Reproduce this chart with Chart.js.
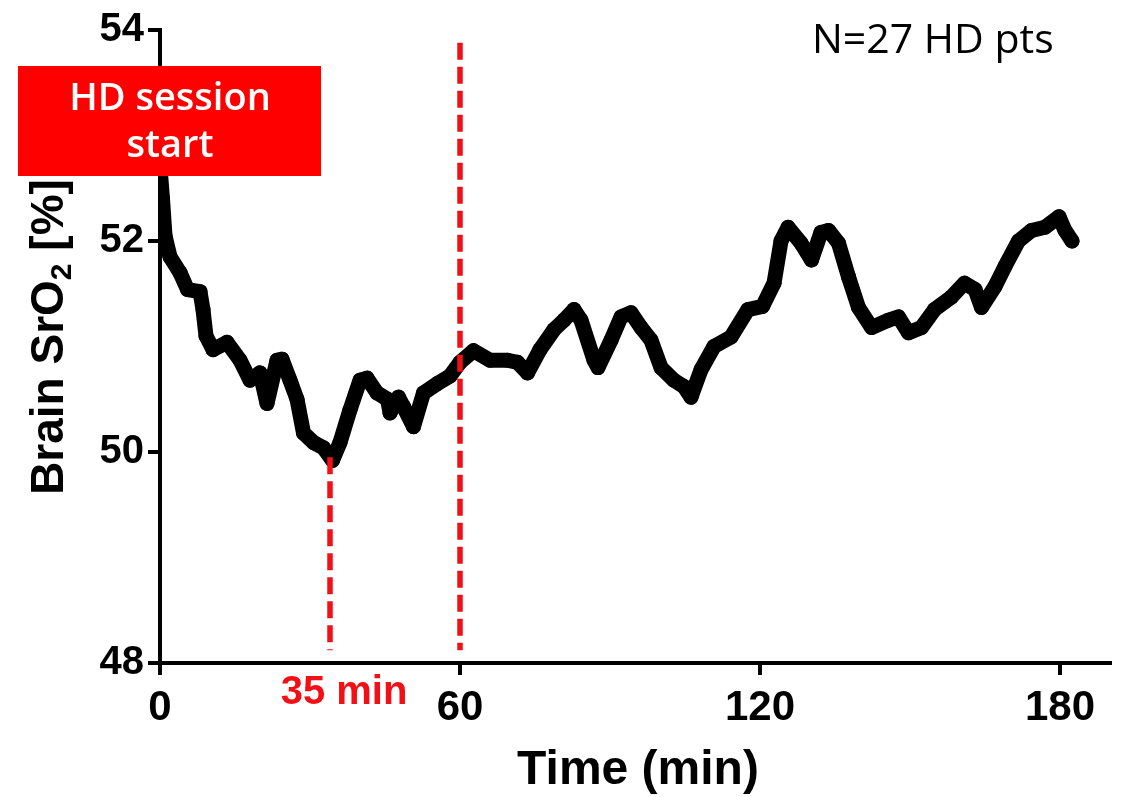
<!DOCTYPE html>
<html>
<head>
<meta charset="utf-8">
<title>Brain SrO2 during HD session</title>
<script src="https://cdn.jsdelivr.net/npm/chart.js@4.4.1/dist/chart.umd.min.js"></script>
<style>
  html, body { margin: 0; padding: 0; background: #fff; }
  #chart-wrap { width: 1137px; height: 797px; }
</style>
</head>
<body>
<div id="chart-wrap"><canvas id="srO2-chart" width="1137" height="797"></canvas></div>
<script>
// minutes since HD start, mean brain SrO2 (%)
const timeMin = [
    0, 0.5, 1, 2, 4, 5.5, 8, 8.6, 9.2, 10.6, 13.4, 16, 18, 20, 21.4, 23.4, 24.4, 26, 27.4, 28.7,
    30.7, 32.7, 34.5, 36, 38, 40, 41.4, 43.4, 45.5, 46, 47.7, 48.7, 50.7, 52.7, 55.5, 58, 60, 62.7,
    66, 69.5, 71.5, 73.5, 76, 78.8, 80.8, 82.8, 84.2, 86.8, 87.6, 90.2, 92.2, 94.2, 96.2, 98.2,
    100.2, 102.8, 104.8, 106.2, 108.2, 110.8, 114.2, 117.6, 120.5, 122.8, 124.2, 125.6, 128.2,
    130.3, 132.2, 133.7, 135.7, 137.7, 139.7, 142.3, 145.7, 147.7, 149.7, 152.3, 154.9, 158.3,
    160.9, 163, 164.3, 167, 169, 171.7, 174.3, 177, 179.8, 181, 182.4
];
const brainSrO2 = [
    52.7, 52.4, 52.05, 51.85, 51.7, 51.54, 51.52, 51.35, 51.1, 50.97, 51.04, 50.87, 50.68, 50.75, 50.46, 50.87, 50.88, 50.68, 50.5, 50.18,
    50.09, 50.04, 49.92, 50.09, 50.4, 50.68, 50.7, 50.56, 50.5, 50.37, 50.52, 50.43, 50.24, 50.56, 50.65, 50.72, 50.85, 50.96,
    50.87, 50.87, 50.85, 50.75, 50.97, 51.16, 51.25, 51.35, 51.25, 50.87, 50.8, 51.06, 51.28, 51.32, 51.18, 51.06,
    50.8, 50.68, 50.62, 50.52, 50.78, 51.0, 51.09, 51.35, 51.38, 51.6, 52.0, 52.13, 51.98,
    51.82, 52.08, 52.1, 51.98, 51.66, 51.37, 51.18, 51.25, 51.28, 51.13, 51.18, 51.35, 51.47,
    51.6, 51.54, 51.37, 51.57, 51.76, 52.0, 52.1, 52.13, 52.23, 52.1, 52.0
];

const xTicks = [0, 60, 120, 180];
const yTicks = [48, 50, 52, 54];

// red dashed markers: nadir (35 min) and 60 min
const markerTimes = [34, 60];
const markerTops = [49.95, 53.88];
const markerBottom = 48.12;

const markerLabel = '35 min';
const boxLines = ['HD session', 'start'];
const cohortNote = 'N=27 HD pts';

const seriesPoints = timeMin.map((t, i) => ({ x: t, y: brainSrO2[i] }));

const markerSets = markerTimes.map((t, i) => ({
    type: 'line',
    data: [{ x: t, y: markerTops[i] }, { x: t, y: markerBottom }],
    borderColor: '#f21016',
    borderWidth: 5.5,
    borderDash: [17, 7],
    pointRadius: 0,
    order: 0
}));

const overlayText = {
    id: 'overlayText',
    afterDraw(chart) {
        const ctx = chart.ctx;
        const xs = chart.scales.x;
        ctx.save();

        // session start box
        ctx.fillStyle = '#ff0000';
        ctx.fillRect(18, 66, 303, 110);
        ctx.fillStyle = '#fff';
        ctx.font = '600 38px "Open Sans"';
        ctx.textAlign = 'center';
        ctx.textBaseline = 'alphabetic';
        ctx.fillText(boxLines[0], 170, 110);
        ctx.fillText(boxLines[1], 170, 157);

        // cohort note
        ctx.fillStyle = '#000';
        ctx.font = '41px "Open Sans"';
        ctx.textAlign = 'left';
        ctx.fillText(cohortNote, 812, 53);

        // nadir label
        ctx.fillStyle = '#f21016';
        ctx.font = 'bold 40px "Liberation Sans"';
        ctx.textAlign = 'center';
        ctx.fillText(markerLabel, xs.getPixelForValue(36.8), 704);

        // x title
        ctx.fillStyle = '#000';
        ctx.font = 'bold 48px "Liberation Sans"';
        ctx.fillText('Time (min)', 638, 784);

        // y title with subscript
        ctx.translate(63, 337);
        ctx.rotate(-Math.PI / 2);
        const big = 'bold 46px "Liberation Sans"';
        const small = 'bold 30px "Liberation Sans"';
        ctx.font = big;
        const w1 = ctx.measureText('Brain SrO').width;
        const w3 = ctx.measureText(' [%]').width;
        ctx.font = small;
        const w2 = ctx.measureText('2').width;
        let x0 = -(w1 + w2 + w3) / 2;
        ctx.textAlign = 'left';
        ctx.font = big;
        ctx.fillText('Brain SrO', x0, 0);
        ctx.font = small;
        ctx.fillText('2', x0 + w1, 8);
        ctx.font = big;
        ctx.fillText(' [%]', x0 + w1 + w2, 0);

        ctx.restore();
    }
};

new Chart(document.getElementById('srO2-chart'), {
    type: 'line',
    data: {
        datasets: [
            ...markerSets,
            {
                label: 'Brain SrO2',
                data: seriesPoints,
                borderColor: '#000',
                backgroundColor: '#000',
                borderWidth: 15,
                borderJoinStyle: 'round',
                borderCapStyle: 'round',
                pointRadius: 7.5,
                pointBackgroundColor: '#000',
                pointBorderWidth: 0,
                tension: 0,
                order: 1
            }
        ]
    },
    options: {
        responsive: false,
        animation: false,
        layout: { padding: { left: 0, top: 30, right: 27, bottom: 0 } },
        plugins: {
            legend: { display: false },
            tooltip: { enabled: false }
        },
        scales: {
            x: {
                type: 'linear',
                min: 0,
                max: 190,
                afterBuildTicks: s => { s.ticks = xTicks.map(v => ({ value: v })); },
                afterFit: s => { s.height = 134; },
                grid: { drawOnChartArea: false, drawTicks: true, tickLength: 12, lineWidth: 4, color: '#000' },
                border: { display: true, width: 4, color: '#000' },
                ticks: {
                    color: '#000',
                    padding: 8,
                    maxRotation: 0,
                    font: { family: 'Liberation Sans', weight: 'bold', size: 42 }
                }
            },
            y: {
                type: 'linear',
                min: 48,
                max: 54,
                afterBuildTicks: s => { s.ticks = yTicks.map(v => ({ value: v })); },
                afterFit: s => { s.width = 160; },
                grid: { drawOnChartArea: false, drawTicks: true, tickLength: 12, lineWidth: 4, color: '#000' },
                border: { display: true, width: 4, color: '#000' },
                ticks: {
                    color: '#000',
                    padding: 4,
                    font: { family: 'Liberation Sans', weight: 'bold', size: 40 }
                }
            }
        }
    },
    plugins: [overlayText]
});
</script>
</body>
</html>
